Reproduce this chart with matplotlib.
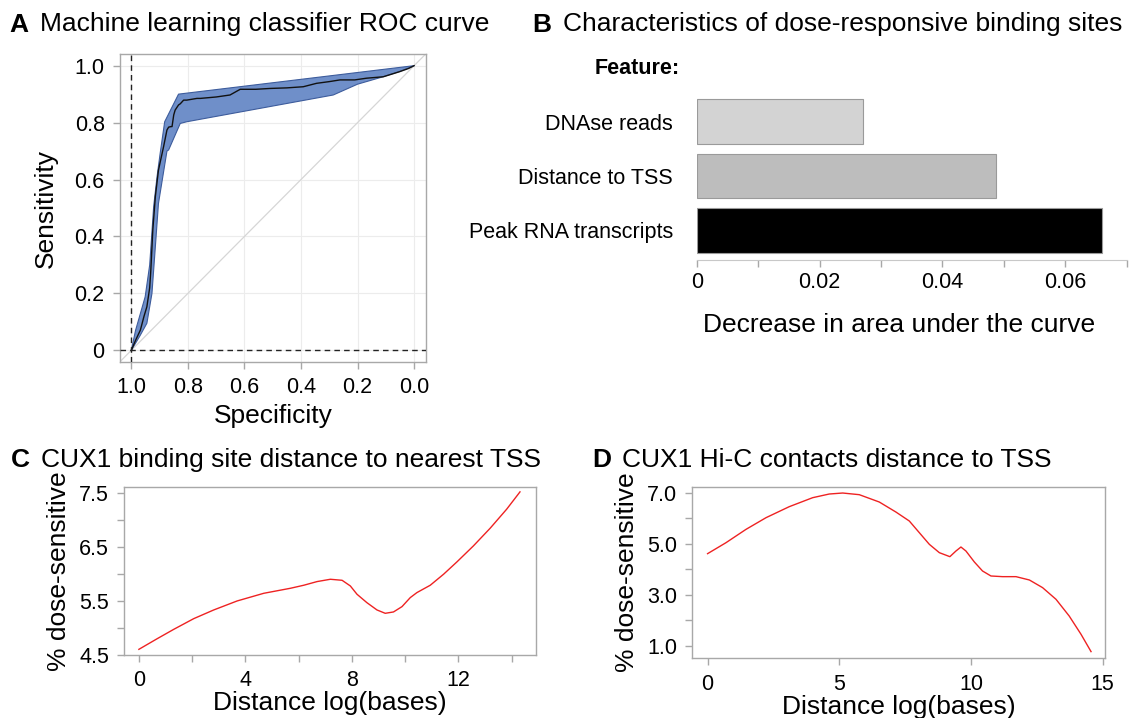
import matplotlib
matplotlib.use("Agg")
import matplotlib.pyplot as plt
import numpy as np

plt.rcParams['font.family'] = ['Liberation Sans', 'DejaVu Sans']

W, H = 1131, 718

# ---------------- data ----------------
# Panel A: ROC curve (specificity, sensitivity)
roc_spec = [1.0, 0.985, 0.968, 0.955, 0.945, 0.935, 0.931, 0.924, 0.915, 0.904, 0.886,
            0.874, 0.868, 0.860, 0.856, 0.850, 0.845, 0.833, 0.827, 0.815, 0.804, 0.768,
            0.756, 0.700, 0.651, 0.615, 0.560, 0.509, 0.450, 0.392, 0.345, 0.300, 0.262,
            0.210, 0.168, 0.109, 0.080, 0.051, 0.020, 0.0]
roc_sens = [0.0, 0.035, 0.071, 0.120, 0.153, 0.220, 0.282, 0.423, 0.540, 0.633, 0.715,
            0.774, 0.784, 0.786, 0.786, 0.827, 0.844, 0.862, 0.866, 0.879, 0.879, 0.885,
            0.885, 0.890, 0.897, 0.917, 0.917, 0.920, 0.922, 0.926, 0.938, 0.944, 0.950,
            0.950, 0.956, 0.961, 0.970, 0.979, 0.990, 1.0]
band_up_spec = [1.0, 0.985, 0.951, 0.935, 0.921, 0.909, 0.898, 0.882, 0.833, 0.500, 0.250, 0.0]
band_up_sens = [0.0, 0.070, 0.188, 0.300, 0.505, 0.610, 0.692, 0.803, 0.900, 0.940, 0.970, 1.0]
band_lo_spec = [1.0, 0.970, 0.945, 0.927, 0.915, 0.904, 0.874, 0.868, 0.827, 0.804, 0.286,
                0.200, 0.120, 0.050, 0.0]
band_lo_sens = [0.0, 0.050, 0.095, 0.200, 0.364, 0.516, 0.700, 0.704, 0.797, 0.803, 0.897,
                0.935, 0.958, 0.980, 1.0]

# Panel B: feature importance
features = ["DNAse reads", "Distance to TSS", "Peak RNA transcripts"]
auc_decrease = [0.0270, 0.0488, 0.0659]
bar_colors = ["#d3d3d3", "#bdbdbd", "#000000"]

# Panel C
c_x = [0.0, 0.69, 1.31, 2.06, 2.81, 3.69, 4.69, 5.69, 6.19, 6.69, 7.19, 7.63, 7.94, 8.19,
       8.56, 8.94, 9.25, 9.56, 9.88, 10.19, 10.44, 10.94, 11.44, 11.94, 12.56, 13.19,
       13.81, 14.31]
c_y = [4.605, 4.803, 4.976, 5.174, 5.335, 5.502, 5.644, 5.737, 5.793, 5.861, 5.904, 5.885,
       5.780, 5.626, 5.471, 5.335, 5.273, 5.298, 5.397, 5.564, 5.657, 5.793, 5.997, 6.225,
       6.522, 6.850, 7.203, 7.524]

# Panel D
d_x = [0.0, 0.70, 1.46, 2.22, 3.10, 3.99, 4.62, 5.13, 5.76, 6.52, 7.15, 7.66, 8.04, 8.42,
       8.80, 9.20, 9.43, 9.62, 9.81, 10.13, 10.44, 10.76, 11.20, 11.71, 12.22, 12.72,
       13.23, 13.73, 14.18, 14.56]
d_y = [4.608, 5.039, 5.562, 6.020, 6.451, 6.804, 6.948, 6.987, 6.922, 6.634, 6.242, 5.889,
       5.431, 4.974, 4.647, 4.490, 4.712, 4.869, 4.712, 4.281, 3.928, 3.732, 3.706, 3.706,
       3.575, 3.275, 2.817, 2.163, 1.444, 0.765]

# ---------------- figure ----------------
fig = plt.figure(figsize=(W / 100, H / 100), dpi=100)

def ax_rect(x0, y0, x1, y1):
    return [x0 / W, 1 - y1 / H, (x1 - x0) / W, (y1 - y0) / H]

SPINE = "#a8a8a8"
TICK_FS = 15.5
LAB_FS = 19

def style_box(ax):
    for s in ax.spines.values():
        s.set_color(SPINE)
        s.set_linewidth(1.0)
    ax.tick_params(which='both', color=SPINE, length=5, width=1, labelsize=TICK_FS,
                   direction='out', pad=6)

def panel_title(x, baseline, letter, text):
    fig.text(x / W, 1 - baseline / H, letter, fontsize=19, fontweight='bold',
             ha='left', va='baseline')
    fig.text((x + 30) / W, 1 - baseline / H, text, fontsize=19,
             ha='left', va='baseline')

# ---- Panel A ----
axA = fig.add_axes(ax_rect(120, 54, 426, 362))
style_box(axA)
axA.set_xlim(1.04, -0.042)
axA.set_ylim(-0.041, 1.041)
ticks = [0, 0.2, 0.4, 0.6, 0.8, 1.0]
axA.set_xticks(ticks)
axA.set_xticklabels(["0.0", "0.2", "0.4", "0.6", "0.8", "1.0"])
axA.set_yticks(ticks)
axA.set_yticklabels(["0", "0.2", "0.4", "0.6", "0.8", "1.0"])
axA.grid(True, color="#ececec", linewidth=0.8)
axA.set_axisbelow(True)
axA.axline((1, 0), slope=-1, color="#d6d6d6", linewidth=0.9, zorder=1)
poly_x = list(band_up_spec) + list(band_lo_spec[::-1])
poly_y = list(band_up_sens) + list(band_lo_sens[::-1])
axA.fill(poly_x, poly_y, facecolor="#6f8fc9", edgecolor="#3d5c9c", linewidth=0.8, zorder=2)
axA.plot(roc_spec, roc_sens, color="#111111", linewidth=1.0, zorder=3)
axA.axvline(1.0, color="#222222", linestyle=(0, (4, 3)), linewidth=1.0, zorder=4)
axA.axhline(0.0, color="#222222", linestyle=(0, (4, 3)), linewidth=1.0, zorder=4)
axA.set_xlabel("Specificity", fontsize=LAB_FS, labelpad=4)
axA.set_ylabel("Sensitivity", fontsize=LAB_FS, labelpad=12)
panel_title(9.6, 31.5, "A", "Machine learning classifier ROC curve")

# ---- Panel B ----
axB = fig.add_axes(ax_rect(696.7, 94, 1126.7, 260))
ypos = np.arange(len(features))[::-1]
axB.barh(ypos, auc_decrease, height=0.83, color=bar_colors, edgecolor="#9a9a9a", linewidth=0.8)
axB.set_xlim(0, 0.07)
axB.set_ylim(-0.55, 2.513)
axB.set_yticks(ypos)
axB.set_yticklabels(features, fontsize=TICK_FS)
axB.tick_params(axis='y', length=0, pad=17)
axB.set_xticks([0, 0.02, 0.04, 0.06])
axB.set_xticklabels(["0", "0.02", "0.04", "0.06"])
axB.set_xticks([0.01, 0.03, 0.05, 0.07], minor=True)
axB.tick_params(axis='x', which='both', color=SPINE, length=5, width=1,
                labelsize=TICK_FS, pad=4)
for s in ["left", "top", "right"]:
    axB.spines[s].set_visible(False)
axB.spines["bottom"].set_color("#c8c8c8")
axB.set_xlabel("Decrease in area under the curve", fontsize=LAB_FS)
axB.xaxis.set_label_coords((899.5 - 696.7) / 430, -(325 - 260) / 166, transform=axB.transAxes)
axB.xaxis.label.set_va('center')
fig.text(679.3 / W, 1 - 68 / H, "Feature:", fontsize=TICK_FS, fontweight='bold',
         ha='right', va='center')
panel_title(532.6, 31.5, "B", "Characteristics of dose-responsive binding sites")

# ---- Panel C ----
axC = fig.add_axes(ax_rect(124.5, 486.7, 535.7, 655))
style_box(axC)
axC.plot(c_x, c_y, color="#ee2222", linewidth=1.0)
axC.set_xlim(-0.54, 14.9)
axC.set_ylim(4.5, 7.62)
axC.set_xticks([0, 4, 8, 12])
axC.set_xticks([2, 6, 10, 14], minor=True)
axC.set_yticks([4.5, 5.5, 6.5, 7.5])
axC.set_yticklabels(["4.5", "5.5", "6.5", "7.5"])
axC.set_yticks([5.0, 6.0, 7.0], minor=True)
axC.set_xlabel("Distance log(bases)", fontsize=LAB_FS, labelpad=0)
axC.set_ylabel("% dose-sensitive", fontsize=LAB_FS, labelpad=6)
panel_title(10.9, 467, "C", "CUX1 binding site distance to nearest TSS")

# ---- Panel D ----
axD = fig.add_axes(ax_rect(692.3, 486.7, 1105, 658.3))
style_box(axD)
axD.plot(d_x, d_y, color="#ee2222", linewidth=1.0)
axD.set_xlim(-0.58, 15.09)
axD.set_ylim(0.503, 7.235)
axD.set_xticks([0, 5, 10, 15])
axD.set_yticks([1, 3, 5, 7])
axD.set_yticklabels(["1.0", "3.0", "5.0", "7.0"])
axD.set_yticks([2, 4, 6], minor=True)
axD.set_xlabel("Distance log(bases)", fontsize=LAB_FS, labelpad=0)
axD.set_ylabel("% dose-sensitive", fontsize=LAB_FS, labelpad=6)
panel_title(592.2, 467, "D", "CUX1 Hi-C contacts distance to TSS")

fig.savefig("out.png", dpi=100)
